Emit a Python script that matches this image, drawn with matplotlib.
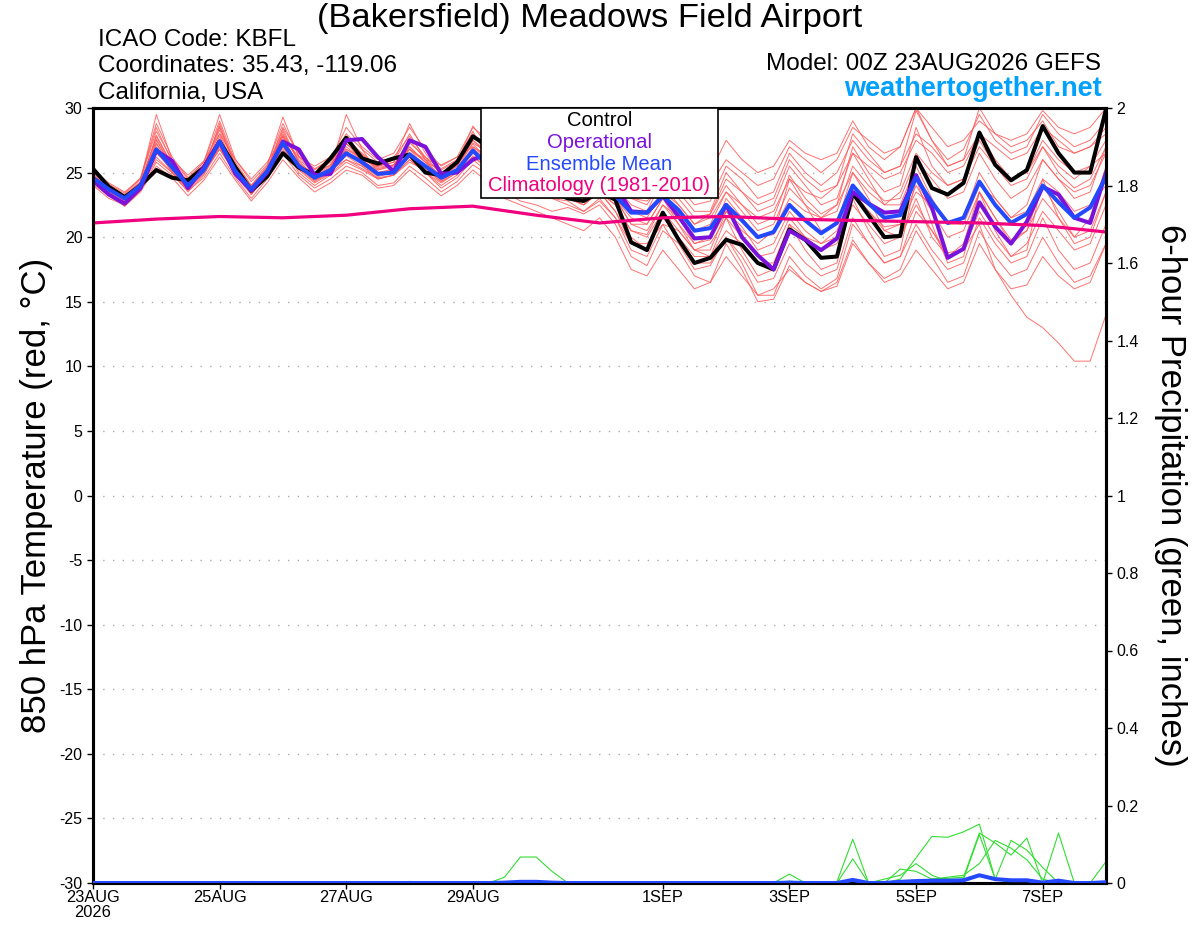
import numpy as np
import matplotlib
matplotlib.use("Agg")
import matplotlib.pyplot as plt

plt.rcParams['font.family'] = ['Liberation Sans', 'DejaVu Sans']
plt.rcParams['axes.unicode_minus'] = False

# 6-hourly forecast steps, 00Z 23AUG2026 to 00Z 8SEP
steps = list(range(65))

control = [25.3, 23.9, 23.1, 24.0, 25.2, 24.6, 24.4, 25.4, 27.4, 25.4, 23.6, 24.7, 26.5,
           25.4, 24.8, 26.1, 27.7, 26.1, 25.7, 26.1, 26.4, 25.0, 24.8, 25.8, 27.8,
           27.0, 25.5, 24.5, 24.0, 23.5, 23.0, 22.8, 23.5, 22.9, 19.6, 19.0, 21.9, 19.8,
           18.0, 18.4, 19.8, 19.4, 18.0, 17.5, 20.6, 19.8, 18.4, 18.5, 23.4, 21.7, 20.0,
           20.1, 26.2, 23.8, 23.3, 24.2, 28.1, 25.6, 24.4, 25.2, 28.6, 26.5, 25.0, 25.0, 29.9]

operational = [24.4, 23.3, 22.6, 23.8, 26.7, 25.9, 23.8, 25.4, 27.4, 24.9, 23.6, 25.0, 27.4,
               26.8, 24.8, 24.9, 27.5, 27.6, 26.2, 25.1, 27.5, 27.0, 24.9, 25.0, 26.0,
               26.5, 25.5, 25.5, 25.0, 24.5, 24.0, 24.5, 25.0, 24.0, 22.0, 21.9, 23.2, 21.6,
               19.9, 20.0, 22.5, 20.0, 18.6, 17.5, 20.5, 19.8, 19.0, 19.9, 23.5, 22.6, 21.9,
               22.0, 24.8, 22.3, 18.4, 19.1, 22.7, 20.8, 19.5, 21.2, 23.9, 23.3, 21.5, 21.1, 25.0]

ens_mean = [24.6, 23.7, 23.0, 24.0, 26.8, 25.4, 24.0, 25.2, 27.4, 25.1, 23.7, 25.1, 27.3,
            25.5, 24.6, 25.2, 26.5, 25.8, 24.9, 25.0, 26.4, 25.5, 24.6, 25.2, 26.7,
            25.5, 24.5, 24.0, 23.8, 24.0, 23.5, 23.3, 24.2, 23.2, 21.9, 21.9, 23.2, 22.1,
            20.5, 20.7, 22.5, 21.3, 20.0, 20.4, 22.5, 21.3, 20.3, 21.1, 24.0, 22.6, 21.5,
            21.7, 24.6, 22.7, 21.1, 21.5, 24.3, 22.5, 21.1, 21.8, 24.0, 22.7, 21.5, 22.3, 24.7]

# daily climatology (1981-2010)
clim_days = list(range(17))
climatology = [21.1, 21.4, 21.6, 21.5, 21.7, 22.2, 22.4, 21.7, 21.1, 21.5, 21.6, 21.4,
               21.3, 21.2, 21.1, 20.9, 20.4]

members = [
    [25.0, 24.0, 23.2, 24.3, 29.5, 26.0, 24.5, 25.8, 29.0, 25.8, 24.0, 25.5, 29.3,
     26.2, 25.0, 25.8, 27.5, 26.5, 25.5, 25.8, 28.8, 26.5, 25.0, 25.8, 28.6,
     27.0, 25.5, 24.8, 24.5, 25.0, 24.3, 24.0, 25.5, 24.0, 23.0, 22.5, 24.5, 23.0,
     21.5, 21.8, 24.0, 22.5, 21.0, 21.5, 24.8, 23.0, 21.8, 22.5, 27.0, 25.0, 23.5,
     24.0, 28.5, 25.5, 24.0, 24.5, 27.5, 25.5, 24.0, 24.5, 27.0, 25.0, 23.8, 24.5, 27.0],
    [24.2, 23.3, 22.4, 23.6, 25.8, 24.8, 23.6, 24.6, 26.5, 24.6, 23.0, 24.5, 26.5,
     24.8, 23.8, 24.5, 25.5, 25.0, 24.0, 24.2, 25.5, 24.6, 23.5, 24.3, 25.6,
     24.8, 23.5, 22.8, 22.5, 22.0, 22.3, 21.8, 22.5, 21.0, 18.5, 17.8, 20.5, 19.5,
     17.5, 17.8, 20.0, 18.0, 15.5, 15.5, 18.5, 17.0, 16.0, 16.8, 21.0, 19.5, 18.0,
     18.5, 22.0, 20.5, 18.5, 19.0, 22.0, 20.0, 18.5, 19.5, 22.0, 20.5, 19.0, 19.5, 22.5],
    [24.8, 23.8, 23.0, 24.2, 27.8, 25.6, 24.2, 25.4, 28.0, 25.3, 23.5, 25.0, 28.2,
     25.8, 24.5, 25.2, 26.0, 25.5, 24.5, 24.8, 26.0, 25.0, 24.2, 25.0, 26.5,
     25.5, 24.5, 24.0, 23.5, 23.0, 23.2, 22.8, 23.5, 22.5, 20.5, 20.0, 22.0, 20.5,
     19.0, 19.5, 21.5, 20.0, 18.5, 18.8, 21.5, 20.0, 19.0, 19.5, 22.5, 21.0, 19.5,
     20.0, 22.5, 20.5, 18.8, 19.0, 21.0, 17.5, 15.5, 13.8, 13.0, 11.8, 10.4, 10.4, 14.0],
    [24.5, 23.6, 22.8, 24.0, 27.0, 25.2, 23.8, 25.0, 27.6, 25.0, 23.4, 24.8, 27.5,
     25.3, 24.3, 25.0, 27.0, 26.0, 25.0, 25.3, 27.0, 25.8, 24.8, 25.5, 27.5,
     26.5, 25.5, 25.0, 24.8, 25.5, 25.0, 24.5, 25.5, 24.5, 23.5, 23.0, 25.0, 24.0,
     22.5, 22.8, 25.5, 24.5, 23.0, 23.5, 26.5, 25.0, 24.0, 25.0, 27.5, 26.0, 25.0,
     25.5, 29.8, 27.5, 26.0, 26.8, 29.5, 27.5, 26.5, 27.0, 29.5, 28.0, 27.0, 27.5, 29.0],
    [24.0, 23.0, 22.5, 23.8, 26.0, 25.0, 23.5, 24.8, 27.0, 24.8, 23.3, 24.8, 27.0,
     25.0, 24.0, 24.8, 25.8, 25.2, 24.5, 24.8, 26.0, 25.0, 23.8, 24.6, 26.0,
     25.0, 24.0, 23.5, 23.0, 23.0, 22.5, 22.0, 23.0, 21.5, 19.0, 18.5, 21.0, 19.0,
     17.0, 16.5, 19.5, 17.5, 15.0, 15.2, 17.8, 16.5, 15.8, 16.5, 19.8, 18.0, 16.8,
     17.5, 20.5, 18.5, 16.5, 17.0, 20.5, 18.5, 17.0, 17.5, 20.0, 18.0, 16.5, 17.0, 19.5],
    [24.9, 24.0, 23.3, 24.5, 28.5, 25.8, 24.3, 25.6, 28.3, 25.5, 24.0, 25.4, 28.0,
     26.0, 25.0, 25.6, 27.2, 26.3, 25.3, 25.6, 27.5, 26.0, 25.0, 25.6, 27.2,
     26.0, 25.0, 24.5, 24.0, 24.5, 23.8, 23.5, 24.5, 23.5, 22.0, 21.5, 23.5, 22.5,
     21.0, 21.5, 23.5, 22.0, 20.5, 21.0, 23.8, 22.5, 21.5, 22.0, 25.5, 24.0, 22.8,
     23.0, 26.0, 24.5, 23.0, 23.5, 26.5, 24.5, 23.0, 23.8, 26.0, 24.5, 23.5, 24.0, 26.5],
    [24.3, 23.5, 22.6, 23.9, 27.3, 25.3, 23.9, 25.1, 26.8, 25.0, 23.5, 25.0, 27.0,
     25.4, 24.4, 25.2, 29.5, 26.8, 25.0, 25.2, 26.5, 25.3, 24.3, 25.2, 27.0,
     26.0, 25.2, 24.6, 24.2, 24.8, 24.0, 23.0, 24.0, 23.0, 21.0, 20.5, 22.5, 21.5,
     19.5, 20.0, 23.0, 21.5, 20.0, 20.2, 24.5, 22.5, 20.5, 21.0, 25.0, 23.0, 20.5,
     20.0, 23.0, 20.0, 18.5, 19.5, 23.5, 21.5, 19.8, 20.5, 24.0, 22.0, 20.0, 21.5, 25.5],
    [24.7, 23.8, 23.1, 24.1, 26.5, 25.3, 24.1, 25.3, 27.2, 25.2, 23.8, 25.2, 27.6,
     25.6, 24.8, 25.5, 26.8, 26.0, 25.5, 25.8, 28.0, 26.0, 24.5, 25.3, 27.3,
     26.5, 25.5, 25.0, 24.5, 24.0, 23.0, 22.5, 23.5, 22.0, 20.0, 19.0, 22.0, 20.0,
     18.5, 18.5, 21.5, 19.0, 17.0, 17.5, 21.0, 19.0, 17.5, 18.0, 23.0, 20.5, 18.5,
     19.0, 24.5, 21.0, 18.0, 18.5, 23.5, 20.5, 18.5, 19.0, 24.5, 21.5, 19.5, 20.0, 23.5],
    [24.4, 23.5, 22.9, 24.1, 27.5, 25.5, 24.0, 25.3, 27.8, 25.3, 23.6, 25.1, 27.8,
     25.5, 24.6, 25.3, 26.8, 26.2, 25.2, 25.5, 26.8, 25.8, 24.6, 25.5, 27.5,
     26.3, 25.5, 25.2, 25.0, 25.5, 24.8, 24.5, 25.8, 24.8, 23.0, 22.8, 24.0, 22.5,
     21.0, 21.8, 24.5, 23.5, 22.5, 23.0, 26.0, 24.5, 23.5, 24.0, 28.0, 26.5, 25.0,
     25.5, 28.0, 27.0, 25.5, 26.0, 30.0, 28.0, 27.0, 27.5, 29.0, 27.0, 26.5, 27.0, 28.5],
    [24.3, 23.4, 22.7, 23.8, 26.2, 25.0, 23.7, 24.9, 26.8, 24.9, 23.4, 24.9, 26.8,
     25.2, 24.2, 24.9, 26.0, 25.3, 24.6, 24.8, 25.8, 25.2, 24.3, 25.0, 26.2,
     25.3, 24.3, 23.8, 23.5, 23.8, 23.0, 22.5, 23.5, 22.5, 20.5, 20.2, 22.5, 21.0,
     19.5, 19.8, 22.0, 20.8, 19.0, 19.5, 22.0, 20.5, 19.5, 20.0, 23.5, 22.0, 20.8,
     21.0, 24.0, 22.0, 20.0, 20.5, 23.5, 21.5, 19.5, 20.5, 23.0, 21.5, 20.0, 20.5, 23.5],
    [25.0, 24.1, 23.4, 24.6, 28.8, 26.2, 24.6, 25.8, 29.5, 26.0, 24.3, 25.6, 28.8,
     26.3, 25.3, 26.0, 28.0, 26.8, 25.8, 26.2, 27.8, 26.2, 25.3, 26.0, 28.0,
     27.0, 26.0, 25.5, 25.5, 26.0, 25.5, 25.0, 26.0, 25.0, 24.0, 23.5, 25.5, 24.5,
     23.5, 24.0, 26.0, 25.0, 24.0, 24.5, 27.0, 26.0, 25.0, 26.0, 28.5, 27.5, 26.5,
     27.0, 30.0, 28.5, 27.0, 27.5, 29.0, 28.0, 27.5, 28.0, 29.8, 28.5, 28.0, 28.5, 30.0],
    [24.5, 23.6, 22.9, 24.0, 26.6, 25.1, 23.8, 25.0, 27.0, 25.0, 23.6, 25.0, 27.2,
     25.3, 24.5, 25.0, 26.3, 25.5, 24.7, 25.0, 26.2, 25.0, 24.0, 24.8, 26.3,
     25.3, 24.5, 24.0, 23.5, 23.0, 22.8, 22.0, 22.8, 21.5, 19.5, 19.0, 21.5, 20.0,
     18.0, 18.0, 20.0, 18.5, 16.5, 16.8, 19.5, 18.0, 17.0, 17.5, 21.5, 19.5, 18.0,
     18.5, 21.0, 19.0, 17.5, 18.0, 21.5, 19.5, 18.0, 18.5, 21.5, 19.0, 17.5, 18.0, 21.0],
    [24.6, 23.7, 23.0, 24.2, 27.2, 25.5, 24.2, 25.5, 28.5, 25.6, 24.0, 25.3, 28.5,
     26.5, 25.2, 26.0, 28.5, 27.0, 26.0, 26.5, 28.5, 26.8, 25.5, 26.2, 28.5,
     27.5, 26.5, 26.0, 26.0, 26.5, 26.0, 25.5, 26.5, 25.5, 25.0, 24.5, 26.5, 25.5,
     24.5, 25.0, 27.5, 26.0, 25.0, 25.5, 27.5, 26.5, 26.0, 26.5, 29.0, 27.0, 26.0,
     27.0, 30.0, 27.5, 25.5, 26.0, 28.0, 26.0, 24.5, 25.0, 27.0, 25.5, 24.5, 25.5, 27.5],
    [24.1, 23.2, 22.4, 23.5, 25.5, 24.6, 23.2, 24.4, 26.2, 24.4, 22.8, 24.2, 26.0,
     24.6, 23.5, 24.2, 25.2, 24.8, 23.8, 24.0, 25.2, 24.2, 23.2, 24.0, 25.2,
     24.2, 23.0, 22.5, 22.0, 21.5, 21.0, 20.5, 21.5, 20.0, 17.5, 17.0, 19.0, 17.5,
     16.0, 16.5, 18.5, 17.0, 15.5, 16.0, 17.5, 16.5, 15.8, 16.2, 19.5, 18.0, 16.5,
     17.0, 19.0, 17.5, 16.0, 16.5, 19.5, 17.5, 16.0, 16.3, 18.5, 17.0, 16.0, 16.5, 19.5],
    [24.8, 23.9, 23.2, 24.3, 27.6, 25.4, 24.4, 25.4, 28.6, 25.4, 23.8, 25.2, 28.4,
     25.7, 24.9, 25.6, 27.3, 25.9, 25.2, 25.6, 27.0, 25.8, 25.2, 25.9, 28.2,
     26.0, 25.0, 24.2, 23.8, 24.2, 23.5, 23.0, 24.0, 23.0, 21.5, 21.0, 23.0, 21.0,
     19.0, 19.0, 22.0, 20.5, 19.5, 20.5, 23.0, 22.0, 21.5, 22.5, 25.0, 23.5, 22.5,
     23.5, 26.5, 25.0, 24.0, 24.5, 27.0, 25.5, 24.5, 25.0, 27.5, 26.0, 25.0, 25.5, 26.5],
    [24.6, 23.6, 22.8, 23.9, 27.9, 25.6, 24.0, 25.2, 28.8, 25.5, 23.9, 25.3, 27.9,
     25.9, 24.7, 25.4, 27.8, 26.4, 25.4, 25.6, 27.3, 26.2, 24.9, 25.7, 27.9,
     26.8, 25.8, 25.5, 25.5, 25.0, 24.5, 24.0, 25.0, 24.0, 22.5, 22.0, 24.5, 23.5,
     22.0, 22.0, 25.0, 23.5, 22.0, 22.5, 25.5, 24.0, 22.5, 23.0, 26.5, 24.5, 22.5,
     22.5, 25.5, 23.0, 21.0, 21.5, 25.0, 23.0, 21.5, 22.5, 26.0, 24.5, 23.0, 23.5, 27.0],
    [24.2, 23.4, 22.6, 23.7, 26.9, 25.0, 23.7, 25.0, 27.5, 25.2, 23.3, 24.9, 27.3,
     25.6, 24.4, 25.0, 26.7, 25.6, 24.8, 25.2, 26.8, 25.4, 24.4, 25.2, 26.9,
     25.8, 24.8, 24.2, 24.5, 24.0, 23.2, 22.5, 23.5, 22.0, 19.5, 19.5, 21.0, 20.5,
     19.0, 18.5, 20.5, 19.5, 18.0, 18.0, 21.0, 20.0, 19.5, 20.5, 23.5, 22.0, 20.5,
     21.0, 23.5, 22.5, 21.0, 21.0, 24.0, 23.0, 21.5, 22.0, 24.5, 23.5, 22.0, 22.5, 24.0],
    [25.2, 24.2, 23.5, 24.5, 28.2, 26.0, 24.8, 25.9, 28.0, 26.0, 24.5, 25.8, 27.8,
     26.2, 25.5, 26.2, 26.5, 26.0, 25.5, 26.0, 26.8, 26.0, 25.6, 26.2, 27.0,
     26.2, 25.6, 25.0, 24.5, 24.0, 23.5, 23.8, 24.8, 23.0, 21.0, 21.0, 23.0, 22.0,
     20.5, 21.0, 23.5, 22.5, 21.5, 22.0, 24.5, 23.5, 23.0, 24.0, 26.5, 25.5, 24.5,
     25.0, 27.5, 26.5, 25.0, 25.5, 28.0, 27.0, 26.0, 26.5, 28.5, 27.5, 26.5, 27.0, 28.0],
]

# 6-hour precipitation (inches), members with any rain
precip_members = [
    [0, 0, 0, 0, 0, 0, 0, 0, 0, 0, 0, 0, 0, 0, 0, 0, 0, 0, 0, 0, 0, 0, 0, 0, 0,
     0, 0.015, 0.067, 0.067, 0.03, 0, 0, 0, 0, 0, 0, 0, 0, 0, 0, 0, 0, 0, 0, 0,
     0, 0, 0, 0, 0, 0, 0, 0, 0, 0, 0, 0, 0, 0, 0, 0, 0, 0, 0, 0],
    [0, 0, 0, 0, 0, 0, 0, 0, 0, 0, 0, 0, 0, 0, 0, 0, 0, 0, 0, 0, 0, 0, 0, 0, 0,
     0, 0, 0, 0, 0, 0, 0, 0, 0, 0, 0, 0, 0, 0, 0, 0, 0, 0, 0, 0.023,
     0, 0, 0.003, 0.113, 0, 0, 0.01, 0.065, 0.12, 0.118, 0.132, 0.152, 0.01, 0, 0, 0, 0, 0, 0, 0],
    [0, 0, 0, 0, 0, 0, 0, 0, 0, 0, 0.004, 0, 0, 0, 0, 0, 0, 0, 0, 0, 0, 0.003, 0.002, 0, 0,
     0, 0, 0, 0, 0, 0, 0, 0, 0, 0, 0, 0, 0, 0, 0, 0, 0, 0, 0, 0.005,
     0, 0, 0, 0.062, 0, 0, 0.036, 0.03, 0.01, 0.012, 0.015, 0.129, 0.103, 0.072, 0.116, 0, 0.129, 0, 0, 0.055],
    [0, 0, 0, 0, 0, 0, 0, 0, 0, 0, 0, 0, 0, 0, 0, 0, 0, 0, 0, 0, 0.004, 0.002, 0.003, 0, 0,
     0, 0, 0, 0, 0, 0, 0, 0, 0, 0, 0, 0, 0, 0, 0, 0, 0, 0, 0, 0,
     0, 0, 0, 0, 0, 0.01, 0.02, 0.05, 0.02, 0.005, 0.01, 0.125, 0.01, 0.11, 0.085, 0.04, 0, 0, 0, 0],
    [0, 0, 0, 0, 0, 0, 0, 0, 0, 0, 0, 0, 0, 0, 0, 0, 0, 0, 0, 0, 0, 0, 0, 0, 0,
     0, 0, 0, 0, 0, 0, 0, 0, 0, 0, 0, 0, 0, 0, 0, 0, 0, 0, 0, 0,
     0, 0, 0, 0, 0, 0, 0, 0, 0.01, 0.015, 0.02, 0.05, 0.11, 0.09, 0.06, 0.01, 0, 0, 0, 0],
]
precip_mean = [0, 0, 0, 0, 0, 0, 0, 0, 0, 0, 0, 0, 0, 0, 0, 0, 0, 0, 0, 0, 0, 0, 0, 0, 0,
               0, 0.001, 0.003, 0.003, 0.001, 0, 0, 0, 0, 0, 0, 0, 0, 0, 0, 0, 0, 0, 0, 0.001,
               0, 0, 0, 0.008, 0, 0, 0.003, 0.005, 0.006, 0.006, 0.007, 0.02, 0.01, 0.007, 0.007, 0.001, 0.006, 0, 0, 0.002]

tick_days = [0, 2, 4, 6, 9, 11, 13, 15]
tick_labels = ["23AUG\n2026", "25AUG", "27AUG", "29AUG", "1SEP", "3SEP", "5SEP", "7SEP"]

t = np.array(steps) / 4.0

fig = plt.figure(figsize=(12, 9.27), dpi=100)
ax = fig.add_axes([93 / 1200, 44 / 927, 1013 / 1200, 775 / 927])

for m in members:
    ax.plot(t, m, color="#ff5a5a", lw=0.7, alpha=0.85, zorder=2)
ax.plot(t, control, color="black", lw=2.9, zorder=4)
ax.plot(t, operational, color="#7a12dc", lw=2.9, zorder=5)
ax.plot(t, ens_mean, color="#2448ff", lw=2.9, zorder=6)
ax.plot(clim_days, climatology, color="#f0007f", lw=2.3, zorder=7)

ax.set_xlim(0, 16)
ax.set_ylim(-30, 30)
ax.set_yticks(range(-30, 31, 5))
ax.set_xticks(tick_days)
ax.set_xticklabels(tick_labels, fontsize=11.8, linespacing=1.0)
ax.tick_params(axis="y", labelsize=11.5, length=4, width=1)
ax.tick_params(axis="x", length=4, width=1, pad=1)
for yv in range(-25, 30, 5):
    ax.axhline(yv, color="#aaaaaa", lw=1.0, ls=(0, (1, 6)), zorder=1)
for s in ax.spines.values():
    s.set_linewidth(2.2)
ax.set_ylabel("850 hPa Temperature (red, °C)", fontsize=25, labelpad=5)

ax2 = ax.twinx()
for p in precip_members:
    ax2.plot(t, p, color="#33dd33", lw=0.8, zorder=2)
ax2.plot(t, precip_mean, color="#2448ff", lw=2.9, zorder=3)
ax2.set_ylim(0, 2)
ax2.set_yticks(np.arange(0, 2.01, 0.2))
ax2.set_yticklabels(["0", "0.2", "0.4", "0.6", "0.8", "1", "1.2", "1.4", "1.6", "1.8", "2"])
ax2.tick_params(axis="y", labelsize=11.5, length=4, width=1)
for s in ax2.spines.values():
    s.set_linewidth(2.2)
ax2.set_ylabel("6-hour Precipitation (green, inches)", fontsize=25, rotation=-90, labelpad=35)

# legend box
leg_lines = [("Control", "black"), ("Operational", "#7a12dc"),
             ("Ensemble Mean", "#2448ff"), ("Climatology (1981-2010)", "#f0007f")]
box = plt.Rectangle((481 / 1200, 1 - 198 / 927), 237 / 1200, 90 / 927,
                    transform=fig.transFigure, facecolor="white", edgecolor="black",
                    lw=1.2, zorder=10)
fig.add_artist(box)
for k, (txt, col) in enumerate(leg_lines):
    fig.text(599.5 / 1200, 1 - (121 + k * 21.5) / 927, txt, color=col, fontsize=14.6,
             ha="center", va="center", zorder=11)

fig.text(590 / 1200, 1 - 19 / 927, "(Bakersfield) Meadows Field Airport", fontsize=24.8,
         ha="center", va="center")
fig.text(98 / 1200, 1 - 40 / 927, "ICAO Code: KBFL", fontsize=17.5, ha="left", va="center")
fig.text(98 / 1200, 1 - 66 / 927, "Coordinates: 35.43, -119.06", fontsize=17.5, ha="left", va="center")
fig.text(98 / 1200, 1 - 93 / 927, "California, USA", fontsize=17.5, ha="left", va="center")
fig.text(1101 / 1200, 1 - 64 / 927, "Model: 00Z 23AUG2026 GEFS", fontsize=17.5, ha="right", va="center")
fig.text(1102 / 1200, 1 - 89 / 927, "weathertogether.net", fontsize=19.5, fontweight="bold",
         color="#00a0ff", ha="right", va="center")

fig.savefig("out.png", dpi=100)
